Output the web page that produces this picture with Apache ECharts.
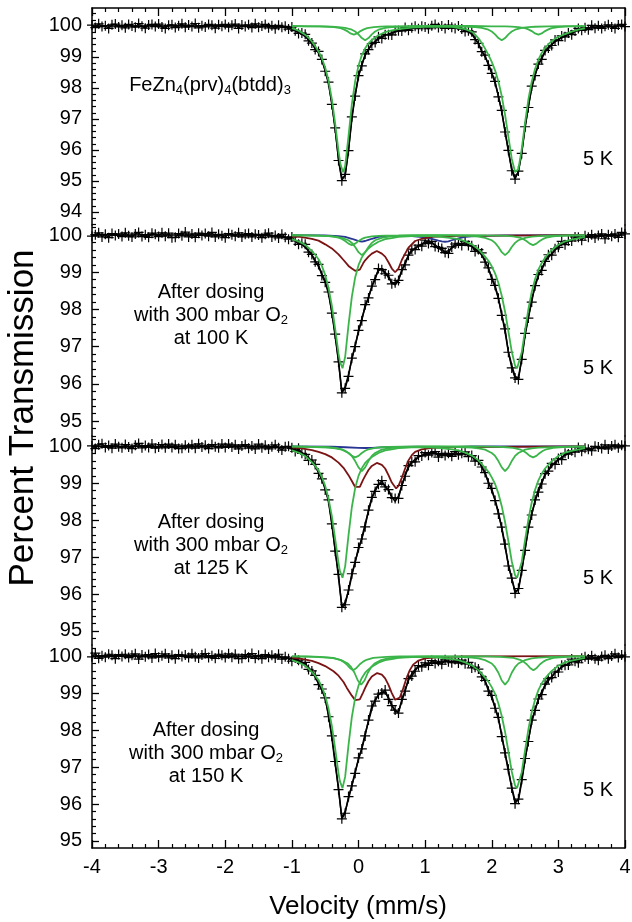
<!DOCTYPE html>
<html><head><meta charset="utf-8">
<script src="https://cdn.jsdelivr.net/npm/echarts@6/dist/echarts.min.js"></script>
<style>html,body{margin:0;padding:0;background:#fff}#c{width:632px;height:922px}</style>
</head><body><div id="c"></div>
<script>
// ---------- DATA ----------
const velocity = [
-4,-3.95,-3.9,-3.85,-3.8,-3.75,-3.7,-3.65,-3.6,-3.55,
-3.5,-3.45,-3.4,-3.35,-3.3,-3.25,-3.2,-3.15,-3.1,-3.05,
-3,-2.95,-2.9,-2.85,-2.8,-2.75,-2.7,-2.65,-2.6,-2.55,
-2.5,-2.45,-2.4,-2.35,-2.3,-2.25,-2.2,-2.15,-2.1,-2.05,
-2,-1.95,-1.9,-1.85,-1.8,-1.75,-1.7,-1.65,-1.6,-1.55,
-1.5,-1.45,-1.4,-1.35,-1.3,-1.25,-1.2,-1.15,-1.1,-1.05,
-1,-0.95,-0.9,-0.85,-0.8,-0.75,-0.7,-0.65,-0.6,-0.55,
-0.5,-0.45,-0.4,-0.35,-0.3,-0.25,-0.2,-0.15,-0.1,-0.05,
0,0.05,0.1,0.15,0.2,0.25,0.3,0.35,0.4,0.45,
0.5,0.55,0.6,0.65,0.7,0.75,0.8,0.85,0.9,0.95,
1,1.05,1.1,1.15,1.2,1.25,1.3,1.35,1.4,1.45,
1.5,1.55,1.6,1.65,1.7,1.75,1.8,1.85,1.9,1.95,
2,2.05,2.1,2.15,2.2,2.25,2.3,2.35,2.4,2.45,
2.5,2.55,2.6,2.65,2.7,2.75,2.8,2.85,2.9,2.95,
3,3.05,3.1,3.15,3.2,3.25,3.3,3.35,3.4,3.45,
3.5,3.55,3.6,3.65,3.7,3.75,3.8,3.85,3.9,3.95,
4];

const dataP1 = [
100.03,99.95,100.07,99.98,100.01,99.92,100.04,100.06,99.97,100.02,
99.94,100.05,100.00,99.96,100.08,99.99,99.93,100.03,100.05,99.98,
100.06,99.97,99.92,100.02,100.04,99.95,100.01,100.07,99.96,100.03,
99.98,100.08,99.94,100.01,99.97,100.05,100.02,99.93,100.04,99.99,
100.05,99.96,100.02,100.06,99.92,100.03,99.98,100.04,99.95,100.07,
99.96,100.00,100.05,99.94,100.01,99.91,100.02,99.96,99.99,99.90,
99.97,99.85,99.76,99.77,99.73,99.52,99.45,99.24,99.18,98.92,
98.54,98.19,97.47,96.71,95.66,95.01,95.21,95.98,97.07,97.74,
98.40,98.71,99.10,99.24,99.43,99.47,99.65,99.60,99.72,99.72,
99.71,99.85,99.85,99.84,99.95,99.86,99.94,99.99,99.91,99.99,
99.97,99.91,100.01,100.05,99.95,100.00,99.92,100.03,99.96,99.92,
100.00,99.90,99.82,99.85,99.81,99.56,99.44,99.17,99.06,98.73,
98.47,98.21,97.71,97.28,96.58,95.99,95.33,95.06,95.32,95.89,
96.75,97.37,98.06,98.40,98.77,98.92,99.21,99.29,99.37,99.55,
99.53,99.68,99.65,99.77,99.72,99.84,99.92,99.86,99.94,99.88,
100.02,99.93,100.01,99.92,99.99,100.04,99.97,99.92,100.03,100.05,
99.98];

const fitP1 = [
100,100,100,100,100,100,100,100,100,100,
100,100,100,100,100,100,100,100,100,100,
100,100,100,100,100,100,100,100,100,100,
100,100,100,100,100,100,100,100,100,100,
100,100,100,100,100,100,100,100,100,100,
99.99,99.99,99.99,99.99,99.99,99.98,99.98,99.97,99.96,99.94,
99.91,99.87,99.81,99.74,99.66,99.56,99.44,99.30,99.13,98.90,
98.58,98.13,97.50,96.66,95.73,95.07,95.17,96.00,96.99,97.79,
98.37,98.77,99.05,99.25,99.39,99.50,99.58,99.65,99.70,99.74,
99.78,99.81,99.84,99.87,99.89,99.91,99.92,99.94,99.95,99.96,
99.96,99.97,99.97,99.98,99.98,99.98,99.97,99.97,99.97,99.96,
99.95,99.92,99.88,99.82,99.73,99.60,99.42,99.20,99.00,98.78,
98.49,98.16,97.75,97.22,96.61,95.95,95.39,95.11,95.29,95.93,
96.71,97.42,97.99,98.42,98.74,98.98,99.16,99.30,99.41,99.49,
99.56,99.62,99.67,99.73,99.79,99.83,99.87,99.90,99.92,99.94,
99.95,99.96,99.97,99.97,99.98,99.98,99.99,99.99,100,100,
100];

const dataP2 = [
99.97,100.01,100.06,99.95,100.02,99.93,100.04,99.99,100.03,99.96,
100.06,99.98,99.95,100.03,100.07,99.96,100.01,99.94,100.05,100.02,
99.96,100.06,99.97,100.05,99.93,99.94,100.04,99.98,100.08,99.95,
100.03,99.94,100.05,99.99,100.04,99.97,100.07,99.95,100.02,99.98,
99.93,100.04,100.01,99.97,100.06,99.95,100.02,100.04,99.95,100.02,
100.00,99.93,100.02,100.05,99.95,99.99,99.92,100.02,99.94,99.89,
99.95,99.84,99.75,99.78,99.75,99.54,99.48,99.28,99.21,98.91,
98.73,98.47,97.90,97.34,96.59,95.76,95.88,96.20,96.69,97.00,
97.44,97.70,98.13,98.31,98.63,98.80,99.10,99.07,98.96,98.92,
98.69,98.72,98.78,99.07,99.20,99.46,99.62,99.61,99.73,99.70,
99.86,99.77,99.83,99.69,99.67,99.64,99.53,99.51,99.68,99.76,
99.78,99.72,99.83,99.72,99.71,99.56,99.61,99.52,99.27,99.12,
98.81,98.65,98.30,97.84,97.48,96.85,96.43,96.16,96.12,96.66,
97.36,97.77,98.20,98.64,98.94,99.05,99.29,99.47,99.46,99.63,
99.67,99.83,99.74,99.85,99.84,99.95,99.94,99.86,99.98,99.94,
100.01,99.92,99.99,100.03,99.90,100.01,99.97,100.03,99.94,100.07,
100.03];

const fitP2 = [
100,100,100,100,100,100,100,100,100,100,
100,100,100,100,100,100,100,100,100,100,
100,100,100,100,100,100,100,100,100,100,
100,100,100,100,100,100,100,100,100,100,
100,100,100,100,100,100,100,99.99,99.99,99.99,
99.99,99.99,99.98,99.98,99.98,99.97,99.97,99.96,99.95,99.93,
99.90,99.86,99.81,99.75,99.67,99.58,99.46,99.31,99.15,98.96,
98.75,98.42,97.94,97.28,96.62,95.78,95.92,96.25,96.66,97.04,
97.40,97.75,98.06,98.33,98.60,98.86,99.05,99.08,99.00,98.86,
98.72,98.66,98.80,99.03,99.27,99.45,99.57,99.65,99.71,99.76,
99.79,99.80,99.79,99.74,99.66,99.58,99.55,99.58,99.65,99.71,
99.75,99.77,99.76,99.74,99.70,99.64,99.57,99.46,99.30,99.10,
98.87,98.60,98.30,97.88,97.40,96.86,96.50,96.20,96.16,96.68,
97.30,97.80,98.28,98.62,98.90,99.10,99.28,99.40,99.50,99.60,
99.69,99.75,99.80,99.84,99.87,99.90,99.92,99.93,99.94,99.95,
99.96,99.96,99.97,99.97,99.98,99.98,99.99,99.99,99.99,100,
100];

const dataP3 = [
100.01,99.94,100.04,100.07,99.97,100.02,99.95,100.06,99.99,99.96,
100.05,99.98,99.94,100.03,100.08,99.96,100.02,99.97,100.06,99.95,
99.98,100.05,99.96,100.06,99.97,100.04,99.94,99.95,100.03,99.96,
100.04,99.95,100.07,99.98,100.03,99.94,100.05,99.99,99.96,100.06,
99.97,100.06,99.98,100.04,99.93,100.01,100.05,99.95,100.01,99.93,
100.06,99.96,100.03,99.93,99.99,100.04,99.96,99.90,99.99,100.00,
99.96,99.86,99.95,99.81,99.78,99.62,99.63,99.51,99.27,99.12,
98.82,98.55,97.90,97.16,96.53,95.64,95.71,96.11,96.55,96.86,
97.26,97.49,97.82,98.27,98.62,98.78,98.97,99.07,98.90,98.83,
98.61,98.59,98.59,98.94,99.19,99.48,99.58,99.58,99.75,99.74,
99.83,99.76,99.83,99.86,99.71,99.81,99.75,99.81,99.73,99.86,
99.77,99.81,99.85,99.72,99.75,99.60,99.62,99.44,99.29,99.00,
98.86,98.53,98.17,97.81,97.35,96.76,96.43,96.02,96.15,96.64,
97.18,97.81,98.14,98.55,98.76,98.98,99.26,99.33,99.54,99.51,
99.67,99.64,99.81,99.79,99.88,99.84,99.97,99.87,99.95,99.92,
99.88,100.00,99.98,99.94,100.04,99.93,100.01,100.04,99.96,100.03,
100.01];

const fitP3 = [
100,100,100,100,100,100,100,100,100,100,
100,100,100,100,100,100,100,100,100,100,
100,100,100,100,100,100,100,100,100,100,
100,100,100,100,100,100,100,100,100,100,
100,100,100,100,100,100,100,99.99,99.99,99.99,
99.99,99.99,99.99,99.98,99.98,99.98,99.98,99.97,99.96,99.95,
99.93,99.91,99.88,99.83,99.77,99.70,99.59,99.45,99.30,99.10,
98.88,98.50,97.90,97.20,96.45,95.66,95.78,96.08,96.50,96.88,
97.20,97.52,97.90,98.25,98.58,98.83,98.96,99.00,98.94,98.80,
98.63,98.51,98.65,98.93,99.22,99.43,99.56,99.65,99.71,99.75,
99.78,99.80,99.81,99.80,99.79,99.78,99.77,99.77,99.78,99.79,
99.80,99.80,99.79,99.77,99.73,99.67,99.58,99.45,99.26,99.04,
98.80,98.55,98.22,97.78,97.28,96.80,96.42,96.08,96.10,96.62,
97.22,97.75,98.17,98.50,98.83,99.04,99.22,99.35,99.46,99.56,
99.64,99.70,99.76,99.80,99.84,99.87,99.90,99.92,99.93,99.94,
99.95,99.96,99.97,99.97,99.98,99.98,99.99,99.99,100,100,
100];

const dataP4 = [
99.98,100.08,99.94,100.01,99.97,100.05,100.02,99.93,100.04,99.99,
100.05,99.96,100.02,100.06,99.92,100.03,99.98,100.04,99.95,100.07,
99.97,100.01,100.06,99.95,100.02,99.93,100.04,99.99,100.03,99.96,
100.06,99.98,99.95,100.03,100.07,99.96,100.01,99.94,100.05,100.02,
99.96,100.06,99.97,100.05,99.93,99.94,100.04,99.97,100.07,99.94,
100.02,99.93,100.04,99.97,100.02,99.95,100.05,99.92,99.98,99.93,
99.86,99.95,99.89,99.80,99.83,99.64,99.60,99.48,99.23,99.11,
98.87,98.36,97.84,97.15,96.39,95.60,95.75,96.20,96.49,96.83,
97.25,97.49,97.84,98.27,98.65,98.78,98.97,99.00,99.08,98.83,
98.66,98.54,98.46,98.83,99.05,99.39,99.46,99.59,99.74,99.71,
99.82,99.75,99.88,99.80,99.86,99.78,99.90,99.85,99.82,99.91,
99.81,99.89,99.79,99.83,99.68,99.70,99.65,99.44,99.34,99.05,
98.94,98.59,98.34,97.82,97.38,96.94,96.43,96.01,96.13,96.66,
97.23,97.69,98.27,98.53,98.84,98.96,99.24,99.39,99.42,99.57,
99.57,99.75,99.75,99.76,99.92,99.86,99.82,99.94,99.98,99.92,
100.01,99.93,99.89,99.99,100.02,99.93,100.00,100.06,99.96,100.03,
99.98];

const fitP4 = [
100,100,100,100,100,100,100,100,100,100,
100,100,100,100,100,100,100,100,100,100,
100,100,100,100,100,100,100,100,100,100,
100,100,100,100,100,100,100,100,100,100,
100,100,100,100,100,100,100,99.99,99.99,99.99,
99.99,99.99,99.99,99.98,99.98,99.98,99.98,99.97,99.96,99.95,
99.93,99.91,99.88,99.83,99.77,99.69,99.58,99.43,99.27,99.08,
98.86,98.42,97.80,97.08,96.42,95.62,95.80,96.14,96.50,96.87,
97.20,97.51,97.90,98.24,98.57,98.82,98.95,99.03,99.02,98.88,
98.68,98.49,98.50,98.77,99.08,99.35,99.52,99.64,99.71,99.75,
99.78,99.80,99.81,99.82,99.83,99.84,99.85,99.86,99.86,99.85,
99.84,99.83,99.81,99.79,99.75,99.69,99.60,99.48,99.32,99.11,
98.87,98.62,98.30,97.87,97.37,96.88,96.45,96.08,96.10,96.61,
97.20,97.74,98.20,98.55,98.83,99.04,99.20,99.33,99.45,99.55,
99.63,99.70,99.75,99.80,99.84,99.87,99.89,99.91,99.93,99.94,
99.95,99.96,99.97,99.97,99.98,99.98,99.99,99.99,100,100,
100];

// fit components: [velocity, transmission]
const g1Main = [[-1.0,99.93],[-0.9,99.85],[-0.8,99.72],[-0.75,99.62],[-0.7,99.5],[-0.65,99.35],[-0.6,99.18],[-0.55,98.96],[-0.5,98.66],[-0.45,98.24],[-0.4,97.64],[-0.35,96.85],[-0.3,95.96],[-0.27,95.53],[-0.23,95.28],[-0.2,95.49],[-0.15,96.44],[-0.1,97.47],[-0.05,98.22],[0,98.72],[0.05,99.06],[0.1,99.28],[0.15,99.44],[0.2,99.55],[0.25,99.63],[0.3,99.7],[0.4,99.8],[0.5,99.86],[0.6,99.9],[0.8,99.95],[1.0,99.97],[1.2,99.98],[1.4,99.97],[1.6,99.9],[1.7,99.82],[1.75,99.72],[1.8,99.6],[1.85,99.45],[1.9,99.27],[1.95,99.07],[2.0,98.84],[2.05,98.57],[2.1,98.21],[2.15,97.74],[2.2,97.13],[2.25,96.42],[2.3,95.72],[2.35,95.29],[2.37,95.25],[2.4,95.38],[2.45,96.03],[2.5,96.88],[2.55,97.63],[2.6,98.2],[2.65,98.61],[2.7,98.91],[2.75,99.13],[2.8,99.29],[2.85,99.41],[2.9,99.51],[2.95,99.59],[3.0,99.65],[3.1,99.74],[3.2,99.82],[3.3,99.88],[3.4,99.92]];
const g1A = [[-1.0,100],[-0.77,99.99],[-0.57,99.985],[-0.47,99.977],[-0.37,99.96],[-0.27,99.93],[-0.22,99.89],[-0.17,99.835],[-0.12,99.76],[-0.07,99.72],[-0.02,99.76],[0.03,99.835],[0.08,99.89],[0.13,99.93],[0.23,99.96],[0.33,99.977],[0.43,99.985],[0.63,99.99],[1.0,100],[1.7,100],[2.0,99.99],[2.2,99.985],[2.3,99.977],[2.4,99.96],[2.5,99.93],[2.55,99.89],[2.6,99.835],[2.65,99.76],[2.7,99.72],[2.75,99.76],[2.8,99.835],[2.85,99.89],[2.9,99.93],[3.0,99.96],[3.1,99.977],[3.2,99.985],[3.4,99.99]];
const g1B = [[-1.0,99.995],[-0.6,99.987],[-0.4,99.975],[-0.3,99.96],[-0.2,99.94],[-0.1,99.88],[-0.05,99.82],[0,99.73],[0.05,99.61],[0.1,99.54],[0.15,99.61],[0.2,99.73],[0.25,99.82],[0.3,99.88],[0.4,99.94],[0.5,99.96],[0.6,99.975],[0.8,99.987],[1.1,99.994],[1.15,99.994],[1.45,99.987],[1.65,99.975],[1.75,99.96],[1.85,99.94],[1.95,99.88],[2.0,99.82],[2.05,99.73],[2.1,99.61],[2.15,99.54],[2.2,99.61],[2.25,99.73],[2.3,99.82],[2.35,99.88],[2.45,99.94],[2.55,99.96],[2.65,99.975],[2.85,99.987],[3.15,99.994],[3.4,99.996]];

const g2Main = [[-1.0,99.89],[-0.9,99.83],[-0.8,99.74],[-0.7,99.57],[-0.65,99.47],[-0.6,99.35],[-0.55,99.17],[-0.5,98.93],[-0.45,98.58],[-0.4,98.1],[-0.35,97.48],[-0.3,96.82],[-0.28,96.61],[-0.24,96.42],[-0.2,96.73],[-0.15,97.58],[-0.1,98.34],[-0.05,98.86],[0,99.19],[0.05,99.4],[0.1,99.54],[0.15,99.64],[0.2,99.71],[0.3,99.82],[0.4,99.89],[0.5,99.92],[0.6,99.95],[0.8,99.97],[1.0,99.98],[1.2,99.96],[1.4,99.92],[1.5,99.89],[1.6,99.83],[1.7,99.75],[1.8,99.62],[1.9,99.42],[1.95,99.31],[2.0,99.16],[2.05,98.97],[2.1,98.71],[2.15,98.37],[2.2,97.94],[2.25,97.41],[2.3,96.87],[2.35,96.49],[2.38,96.42],[2.4,96.46],[2.45,96.85],[2.5,97.44],[2.55,98.01],[2.6,98.47],[2.65,98.81],[2.7,99.07],[2.75,99.25],[2.8,99.39],[2.9,99.6],[3.0,99.74],[3.1,99.83],[3.2,99.88],[3.4,99.95]];
const g2S1 = [[-1.0,99.99],[-0.65,99.984],[-0.45,99.97],[-0.35,99.955],[-0.25,99.925],[-0.15,99.86],[-0.1,99.79],[-0.05,99.68],[0,99.54],[0.05,99.46],[0.1,99.54],[0.15,99.68],[0.2,99.79],[0.25,99.86],[0.35,99.925],[0.45,99.955],[0.55,99.97],[0.75,99.984],[1.05,99.99],[1.2,99.99],[1.5,99.984],[1.7,99.97],[1.8,99.955],[1.9,99.925],[2.0,99.86],[2.05,99.79],[2.1,99.68],[2.15,99.54],[2.2,99.46],[2.25,99.54],[2.3,99.68],[2.35,99.79],[2.4,99.86],[2.5,99.925],[2.6,99.955],[2.7,99.97],[2.9,99.984],[3.2,99.99],[3.4,99.993]];
const g2S2 = [[-1.0,99.995],[-0.8,99.99],[-0.6,99.985],[-0.5,99.978],[-0.4,99.963],[-0.3,99.93],[-0.25,99.895],[-0.2,99.84],[-0.15,99.77],[-0.1,99.73],[-0.05,99.77],[0,99.84],[0.05,99.895],[0.1,99.93],[0.2,99.963],[0.3,99.978],[0.4,99.985],[0.6,99.99],[0.9,100],[1.62,100],[1.92,99.99],[2.12,99.985],[2.22,99.978],[2.32,99.963],[2.42,99.93],[2.47,99.895],[2.52,99.84],[2.57,99.77],[2.62,99.73],[2.67,99.77],[2.72,99.84],[2.77,99.895],[2.82,99.93],[2.92,99.963],[3.02,99.978],[3.12,99.985],[3.32,99.99],[3.4,99.992]];
const g2Brown = [[-1.0,99.96],[-0.875,99.95],[-0.7,99.9],[-0.6,99.85],[-0.5,99.75],[-0.4,99.64],[-0.3,99.48],[-0.225,99.33],[-0.15,99.17],[-0.1,99.1],[-0.05,99.04],[-0.02,99.03],[0.02,99.07],[0.07,99.24],[0.1,99.32],[0.15,99.42],[0.2,99.5],[0.275,99.57],[0.35,99.5],[0.4,99.42],[0.45,99.27],[0.5,99.1],[0.55,99.0],[0.6,99.1],[0.65,99.33],[0.7,99.5],[0.75,99.66],[0.85,99.84],[0.95,99.9],[1.1,99.95],[1.5,99.98],[3.4,100]];
const g2Blue = [[-1.0,100],[-0.5,99.99],[-0.3,99.97],[-0.2,99.95],[-0.1,99.9],[-0.05,99.87],[0,99.84],[0.05,99.82],[0.1,99.84],[0.15,99.87],[0.2,99.9],[0.3,99.95],[0.5,99.97],[0.8,99.97],[1.0,99.94],[1.1,99.9],[1.2,99.85],[1.25,99.83],[1.3,99.82],[1.35,99.83],[1.4,99.86],[1.5,99.91],[1.6,99.95],[1.8,99.98],[2.2,99.99],[3.4,100]];

const g3Main = [[-1.0,99.89],[-0.9,99.83],[-0.8,99.74],[-0.7,99.57],[-0.65,99.47],[-0.6,99.35],[-0.55,99.17],[-0.5,98.93],[-0.45,98.58],[-0.4,98.11],[-0.35,97.49],[-0.3,96.84],[-0.28,96.63],[-0.24,96.44],[-0.2,96.75],[-0.15,97.59],[-0.1,98.35],[-0.05,98.87],[0,99.2],[0.05,99.41],[0.1,99.55],[0.15,99.64],[0.2,99.71],[0.3,99.82],[0.4,99.89],[0.5,99.92],[0.6,99.95],[0.8,99.97],[1.0,99.98],[1.2,99.96],[1.4,99.92],[1.5,99.89],[1.6,99.83],[1.7,99.75],[1.8,99.62],[1.9,99.42],[1.95,99.31],[2.0,99.16],[2.05,98.98],[2.1,98.72],[2.15,98.38],[2.2,97.95],[2.25,97.43],[2.3,96.89],[2.35,96.51],[2.38,96.44],[2.4,96.48],[2.45,96.87],[2.5,97.46],[2.55,98.02],[2.6,98.48],[2.65,98.82],[2.7,99.08],[2.75,99.26],[2.8,99.4],[2.9,99.6],[3.0,99.74],[3.1,99.83],[3.2,99.88],[3.4,99.95]];
const g3S1 = [[-1.0,99.99],[-0.65,99.98],[-0.45,99.964],[-0.35,99.944],[-0.25,99.91],[-0.15,99.82],[-0.1,99.74],[-0.05,99.6],[0,99.43],[0.05,99.33],[0.1,99.43],[0.15,99.6],[0.2,99.74],[0.25,99.82],[0.35,99.91],[0.45,99.944],[0.55,99.964],[0.75,99.98],[1.05,99.99],[1.2,99.99],[1.5,99.98],[1.7,99.964],[1.8,99.944],[1.9,99.91],[2.0,99.82],[2.05,99.74],[2.1,99.6],[2.15,99.43],[2.2,99.33],[2.25,99.43],[2.3,99.6],[2.35,99.74],[2.4,99.82],[2.5,99.91],[2.6,99.944],[2.7,99.964],[2.9,99.98],[3.2,99.99],[3.4,99.993]];
const g3S2 = [[-1.0,100],[-0.75,99.99],[-0.55,99.984],[-0.45,99.975],[-0.35,99.96],[-0.25,99.92],[-0.2,99.88],[-0.15,99.82],[-0.1,99.74],[-0.05,99.7],[0,99.74],[0.05,99.82],[0.1,99.88],[0.15,99.92],[0.25,99.96],[0.35,99.975],[0.45,99.984],[0.65,99.99],[0.95,100],[1.62,100],[1.92,99.99],[2.12,99.984],[2.22,99.975],[2.32,99.96],[2.42,99.92],[2.47,99.88],[2.52,99.82],[2.57,99.74],[2.62,99.7],[2.67,99.74],[2.72,99.82],[2.77,99.88],[2.82,99.92],[2.92,99.96],[3.02,99.975],[3.12,99.984],[3.32,99.99],[3.4,99.992]];
const g3Brown = [[-1.0,99.97],[-0.875,99.95],[-0.7,99.9],[-0.6,99.85],[-0.5,99.79],[-0.4,99.7],[-0.3,99.56],[-0.225,99.42],[-0.15,99.22],[-0.1,99.06],[-0.05,98.9],[-0.02,98.86],[0.02,98.9],[0.07,99.1],[0.1,99.2],[0.15,99.36],[0.2,99.47],[0.275,99.55],[0.35,99.5],[0.4,99.4],[0.45,99.22],[0.5,99.02],[0.565,98.86],[0.6,98.93],[0.65,99.15],[0.7,99.4],[0.75,99.62],[0.8,99.76],[0.85,99.85],[0.95,99.92],[1.1,99.96],[1.5,99.98],[3.4,100]];
const g3Blue = [[-1.0,100],[-0.4,99.99],[-0.2,99.975],[0,99.96],[0.1,99.955],[0.2,99.96],[0.4,99.98],[0.9,99.99],[1.2,99.98],[1.3,99.975],[1.4,99.98],[1.7,99.995],[3.4,100]];

const g4Main = [[-1.0,99.89],[-0.9,99.83],[-0.8,99.74],[-0.7,99.57],[-0.65,99.47],[-0.6,99.35],[-0.55,99.17],[-0.5,98.93],[-0.45,98.58],[-0.4,98.11],[-0.35,97.49],[-0.3,96.83],[-0.28,96.62],[-0.24,96.43],[-0.2,96.74],[-0.15,97.59],[-0.1,98.35],[-0.05,98.87],[0,99.2],[0.05,99.41],[0.1,99.55],[0.15,99.64],[0.2,99.71],[0.3,99.82],[0.4,99.89],[0.5,99.92],[0.6,99.95],[0.8,99.97],[1.0,99.98],[1.2,99.96],[1.4,99.92],[1.5,99.89],[1.6,99.83],[1.7,99.75],[1.8,99.62],[1.9,99.42],[1.95,99.31],[2.0,99.16],[2.05,98.98],[2.1,98.72],[2.15,98.38],[2.2,97.95],[2.25,97.42],[2.3,96.88],[2.35,96.5],[2.38,96.43],[2.4,96.47],[2.45,96.86],[2.5,97.45],[2.55,98.02],[2.6,98.48],[2.65,98.82],[2.7,99.08],[2.75,99.26],[2.8,99.4],[2.9,99.6],[3.0,99.74],[3.1,99.83],[3.2,99.88],[3.4,99.95]];
const g4S1 = [[-1.0,99.99],[-0.66,99.978],[-0.46,99.958],[-0.36,99.936],[-0.26,99.89],[-0.16,99.8],[-0.11,99.7],[-0.06,99.55],[-0.01,99.34],[0.04,99.23],[0.09,99.34],[0.14,99.55],[0.19,99.7],[0.24,99.8],[0.34,99.89],[0.44,99.936],[0.54,99.958],[0.74,99.978],[1.04,99.99],[1.2,99.99],[1.5,99.978],[1.7,99.958],[1.8,99.936],[1.9,99.89],[2.0,99.8],[2.05,99.7],[2.1,99.55],[2.15,99.34],[2.2,99.23],[2.25,99.34],[2.3,99.55],[2.35,99.7],[2.4,99.8],[2.5,99.89],[2.6,99.936],[2.7,99.958],[2.9,99.978],[3.2,99.99],[3.4,99.993]];
const g4S2 = [[-1.0,99.995],[-0.78,99.99],[-0.58,99.98],[-0.48,99.968],[-0.38,99.95],[-0.28,99.9],[-0.23,99.85],[-0.18,99.78],[-0.13,99.68],[-0.08,99.62],[-0.03,99.68],[0.02,99.78],[0.07,99.85],[0.12,99.9],[0.22,99.95],[0.32,99.968],[0.42,99.98],[0.62,99.99],[0.92,99.995],[1.6,99.995],[1.925,99.99],[2.125,99.98],[2.225,99.968],[2.325,99.95],[2.425,99.9],[2.475,99.85],[2.525,99.78],[2.575,99.68],[2.625,99.62],[2.675,99.68],[2.725,99.78],[2.775,99.85],[2.825,99.9],[2.925,99.95],[3.025,99.968],[3.125,99.98],[3.325,99.99],[3.4,99.992]];
const g4Brown = [[-1.0,99.96],[-0.875,99.93],[-0.7,99.87],[-0.6,99.81],[-0.5,99.73],[-0.375,99.59],[-0.3,99.47],[-0.225,99.3],[-0.175,99.14],[-0.1,98.93],[-0.05,98.81],[-0.02,98.78],[0.02,98.83],[0.07,99.02],[0.1,99.14],[0.15,99.32],[0.2,99.45],[0.28,99.54],[0.35,99.5],[0.4,99.4],[0.45,99.22],[0.5,99.0],[0.55,98.82],[0.58,98.78],[0.62,98.88],[0.67,99.12],[0.72,99.4],[0.77,99.62],[0.82,99.77],[0.9,99.88],[1.0,99.94],[1.2,99.97],[1.6,99.99],[3.4,100]];

const xTicks = [-4,-3,-2,-1,0,1,2,3,4];
const yTicksP1 = [94,95,96,97,98,99,100];
const yTicksP2 = [95,96,97,98,99,100];
const yTicksP3 = [95,96,97,98,99,100];
const yTicksP4 = [95,96,97,98,99,100];

// ---------- CHART ----------
const FONT = '"Liberation Sans", Arial, Helvetica, sans-serif';
const GREEN = '#3bb54a', BROWN = '#7a1414', BLUE = '#283593';
const PLUS = 'path://M0,4.4H10V5.6H0Z M4.4,0H5.6V10H4.4Z';

const panels = [
  {top:8, height:217, min:93.58, max:100.58, ticks:yTicksP1, data:dataP1, fit:fitP1,
   comps:[[g1Main,GREEN],[g1A,GREEN],[g1B,GREEN]]},
  {top:225, height:211, min:94.6, max:100.27, ticks:yTicksP2, data:dataP2, fit:fitP2,
   comps:[[g2Blue,BLUE],[g2Brown,BROWN],[g2Main,GREEN],[g2S1,GREEN],[g2S2,GREEN]]},
  {top:436, height:209, min:94.62, max:100.28, ticks:yTicksP3, data:dataP3, fit:fitP3,
   comps:[[g3Blue,BLUE],[g3Brown,BROWN],[g3Main,GREEN],[g3S1,GREEN],[g3S2,GREEN]]},
  {top:645, height:203, min:94.81, max:100.3, ticks:yTicksP4, data:dataP4, fit:fitP4,
   comps:[[g4Brown,BROWN],[g4Main,GREEN],[g4S1,GREEN],[g4S2,GREEN]]}
];

function minorTicks(p){
  const out = [];
  for (let k = Math.ceil(p.min*5); k <= Math.floor(p.max*5); k++) {
    if (k % 5 !== 0) out.push(Math.round(k*20)/100);
  }
  return out;
}

const black = {color:'#000', width:1.5};
const grid = panels.map(p => ({left:92, width:533, top:p.top, height:p.height, containLabel:false, outerBoundsMode:'none'}));

const xAxis = panels.map((p,i) => ({
  gridIndex:i, type:'value', min:-4, max:4, interval:1, position:'bottom', show: i===3,
  axisLine:{show:true, onZero:false, lineStyle:black},
  axisTick:{show:true, inside:true, length:8, lineStyle:{color:'#000', width:1.3}},
  minorTick:{show:true, splitNumber:5, length:4, lineStyle:{color:'#000', width:1.2}},
  axisLabel:{show:true, margin:9, fontSize:20, color:'#000', fontFamily:FONT, customValues:xTicks},
  splitLine:{show:false}, minorSplitLine:{show:false}
}));
xAxis.push({
  gridIndex:0, type:'value', min:-4, max:4, interval:1, position:'top',
  axisLine:{show:true, onZero:false, lineStyle:black},
  axisTick:{show:true, inside:true, length:8, lineStyle:{color:'#000', width:1.3}},
  minorTick:{show:true, splitNumber:5, length:4, lineStyle:{color:'#000', width:1.2}},
  axisLabel:{show:false}, splitLine:{show:false}
});

const yAxis = [];
panels.forEach((p,i) => {
  yAxis.push({
    gridIndex:i, type:'value', min:p.min, max:p.max, position:'left',
    axisLine:{show:true, onZero:false, lineStyle:black},
    axisTick:{show:true, inside:true, length:7, customValues:p.ticks, lineStyle:{color:'#000', width:1.3}},
    axisLabel:{show:true, customValues:p.ticks, margin:10, fontSize:20, color:'#000', fontFamily:FONT},
    splitLine:{show:false}, minorTick:{show:false}
  });
  yAxis.push({
    gridIndex:i, type:'value', min:p.min, max:p.max, position:'left',
    axisLine:{show:false, onZero:false},
    axisTick:{show:true, inside:true, length:4, customValues:minorTicks(p), lineStyle:{color:'#000', width:1.2}},
    axisLabel:{show:false}, splitLine:{show:false}
  });
  yAxis.push({
    gridIndex:i, type:'value', min:p.min, max:p.max, position:'right',
    axisLine:{show:true, onZero:false, lineStyle:black},
    axisTick:{show:false}, axisLabel:{show:false}, splitLine:{show:false}
  });
});

const series = [];
panels.forEach((p,i) => {
  const pts = velocity.map((v,j) => [v, p.data[j]]);
  series.push({
    type:'line', xAxisIndex:i, yAxisIndex:3*i, silent:true, z:2,
    symbol:'none', showSymbol:false, lineStyle:{color:'#000', width:1.4}, data: pts
  });
  series.push({
    type:'scatter', xAxisIndex:i, yAxisIndex:3*i, silent:true, z:2,
    symbol:PLUS, symbolSize:[10,10], itemStyle:{color:'#000', opacity:1}, data: pts
  });
  series.push({
    type:'line', xAxisIndex:i, yAxisIndex:3*i, silent:true, z:3,
    symbol:'none', showSymbol:false, lineStyle:{color:'#000', width:1.6},
    data: velocity.map((v,j) => [v, p.fit[j]])
  });
  p.comps.forEach(([d,c]) => series.push({
    type:'line', xAxisIndex:i, yAxisIndex:3*i, silent:true, z:4,
    symbol:'none', showSymbol:false, lineStyle:{color:c, width:1.8}, data:d
  }));
});

function txt(x, y, text, size, extra){
  return Object.assign({type:'text', x, y, z:100, silent:true, style:{
    text, fill:'#000', font: size+'px '+FONT,
    align:'center', verticalAlign:'middle', textAlign:'center', textVerticalAlign:'middle',
    lineHeight: 23,
    rich:{ s:{font:'13px '+FONT, fill:'#000', lineHeight:8, verticalAlign:'bottom'} }
  }}, extra||{});
}

const graphic = [
  txt(210, 85, 'FeZn{s|4}(prv){s|4}(btdd){s|3}', 20),
  txt(211, 315, 'After dosing\nwith 300 mbar O{s|2}\nat 100 K', 20),
  txt(211, 545, 'After dosing\nwith 300 mbar O{s|2}\nat 125 K', 20),
  txt(206, 753, 'After dosing\nwith 300 mbar O{s|2}\nat 150 K', 20),
  txt(598, 159, '5 K', 20),
  txt(598, 368, '5 K', 20),
  txt(598, 578, '5 K', 20),
  txt(598, 790, '5 K', 20),
  txt(358, 907, 'Velocity (mm/s)', 26),
  txt(23, 418, 'Percent Transmission', 35, {rotation: Math.PI/2})
];

const chart = echarts.init(document.getElementById('c'), null, {renderer:'canvas'});
chart.setOption({
  animation:false,
  backgroundColor:'#fff',
  textStyle:{fontFamily:FONT},
  grid, xAxis, yAxis, series, graphic
});
</script>
</body></html>
